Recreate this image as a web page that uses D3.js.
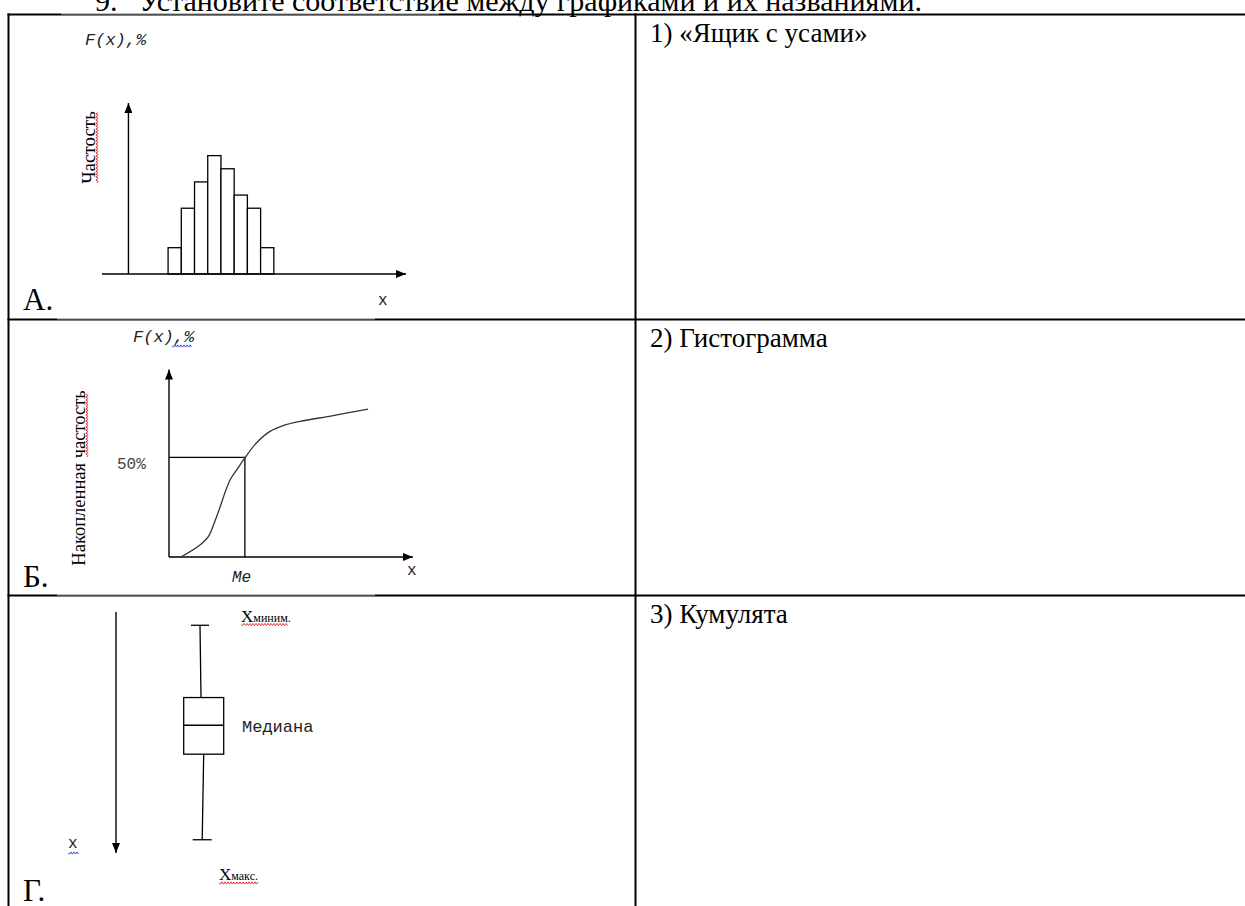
<!DOCTYPE html>
<html>
<head>
<meta charset="utf-8">
<style>
  body { margin: 0; background: #fff; }
  svg { display: block; }
  .serif { font-family: "Liberation Serif", "Times New Roman", serif; fill: #000; }
  .mono { font-family: "Liberation Mono", "Courier New", monospace; fill: #222; }
  .axis { stroke: #000; stroke-width: 1.4; fill: none; }
</style>
</head>
<body>
<svg width="1245" height="906"></svg>
<script src="https://d3js.org/d3.v7.min.js"></script>
<script>
// panel A - histogram
const histBins = [3, 4, 5, 6, 7, 8, 9, 10];
const histValues = [2, 5, 7, 9, 8, 6, 5, 2];

// panel B - cumulative curve (x in %, F(x) in %)
const cumX = [4.9, 12.7, 16.1, 19.5, 25, 27.7, 31.1, 35.9, 41.4, 46.8, 53.7, 67.3, 81.6];
const cumY = [0, 6, 10.2, 20.2, 38.6, 43.6, 49.7, 57.3, 63, 65.9, 68, 70.9, 74.2];
const medianX = 31.1;
const medianPct = 50;

// panel G - box plot: min, q1, median, q3, max
const boxStats = [1.1, 7.1, 9.4, 11.8, 18.9];

const panelLetters = ["А.", "Б.", "Г."];
const answers = ["1) «Ящик с усами»", "2) Гистограмма", "3) Кумулята"];
const title = ["9.", "Установите соответствие между графиками и их названиями."];

const svg = d3.select("svg");
svg.append("rect").attr("width", 1245).attr("height", 906).attr("fill", "#fff");

// arrow head
svg.append("defs").append("marker")
  .attr("id", "arrow")
  .attr("viewBox", "0 0 10 8")
  .attr("refX", 10).attr("refY", 4)
  .attr("markerWidth", 10).attr("markerHeight", 8)
  .attr("markerUnits", "userSpaceOnUse")
  .attr("orient", "auto")
  .append("path").attr("d", "M0,0L10,4L0,8Z").attr("fill", "#000");

// spell-check squiggle
function wavy(x0, y0, len, vertical, color) {
  let d = "M" + x0 + "," + y0;
  for (let i = 1.5, k = 1; i <= len; i += 1.5, k++) {
    let off = (k % 2 ? 1.1 : -1.1);
    d += vertical ? "L" + (x0 + off) + "," + (y0 - i) : "L" + (x0 + i) + "," + (y0 + off);
  }
  svg.append("path").attr("d", d).attr("fill", "none")
    .attr("stroke", color).attr("stroke-width", 0.9);
}

// title (cut at the top, as in the scan)
svg.append("text").attr("class", "serif").attr("x", 95).attr("y", 11)
  .style("font-size", "30px").text(title[0]);
svg.append("text").attr("class", "serif").attr("x", 139).attr("y", 11)
  .style("font-size", "30px").text(title[1]);

// table grid
const rowTops = [14.5, 319.5, 595.5];
rowTops.forEach(y => {
  svg.append("line").attr("x1", 7.5).attr("x2", 1245).attr("y1", y).attr("y2", y)
    .attr("stroke", "#000").attr("stroke-width", 2);
});
// picture frames cut the border slightly
[[61, 439, 14.5], [57, 375, 319.5], [57, 375, 595.5]].forEach(c => {
  svg.append("rect").attr("x", c[0]).attr("y", c[2] - 1).attr("width", c[1] - c[0]).attr("height", 0.8)
    .attr("fill", "#fff");
});
svg.append("line").attr("x1", 8.5).attr("x2", 8.5).attr("y1", 13.5).attr("y2", 906)
  .attr("stroke", "#000").attr("stroke-width", 2);
svg.append("line").attr("x1", 635.5).attr("x2", 635.5).attr("y1", 13.5).attr("y2", 906)
  .attr("stroke", "#000").attr("stroke-width", 2);

answers.forEach((t, i) => {
  svg.append("text").attr("class", "serif").attr("x", 650).attr("y", rowTops[i] + 27)
    .style("font-size", "27px").text(t);
});

// ---------- A: histogram ----------
const xA = d3.scaleLinear().domain([-2, 21]).range([102, 406]);
const yA = d3.scaleLinear().domain([0, 13]).range([274, 103]);

svg.append("g").selectAll("rect")
  .data(histValues)
  .join("rect")
  .attr("x", (d, i) => xA(histBins[i]))
  .attr("width", (d, i) => xA(histBins[i] + 1) - xA(histBins[i]))
  .attr("y", d => yA(d))
  .attr("height", d => yA(0) - yA(d))
  .attr("fill", "#fff").attr("stroke", "#000").attr("stroke-width", 1.3);

svg.append("line").attr("class", "axis")
  .attr("x1", xA(-2)).attr("x2", xA(21)).attr("y1", yA(0)).attr("y2", yA(0))
  .attr("marker-end", "url(#arrow)");
svg.append("line").attr("class", "axis")
  .attr("x1", xA(0)).attr("x2", xA(0)).attr("y1", yA(0)).attr("y2", yA(13))
  .attr("marker-end", "url(#arrow)");

svg.append("text").attr("class", "mono").attr("x", 85).attr("y", 45)
  .style("font-size", "17px").style("font-style", "italic").text("F(x),%");
svg.append("text").attr("class", "serif")
  .attr("transform", "translate(95,147.5) rotate(-90)")
  .attr("text-anchor", "middle").style("font-size", "19px").text("Частость");
wavy(97, 183, 71, true, "#e02020");
svg.append("text").attr("class", "mono").attr("x", 378).attr("y", 305)
  .style("font-size", "16px").text("x");
svg.append("text").attr("class", "serif").attr("x", 23).attr("y", 310)
  .style("font-size", "31px").text(panelLetters[0]);

// ---------- B: cumulative ----------
const xB = d3.scaleLinear().domain([0, 100]).range([169, 413]);
const yB = d3.scaleLinear().domain([0, 50]).range([557, 457.3]);

svg.append("line").attr("class", "axis")
  .attr("x1", xB(0)).attr("x2", xB(100)).attr("y1", yB(0)).attr("y2", yB(0))
  .attr("marker-end", "url(#arrow)");
svg.append("line").attr("class", "axis")
  .attr("x1", xB(0)).attr("x2", xB(0)).attr("y1", yB(0)).attr("y2", yB(94))
  .attr("marker-end", "url(#arrow)");

svg.append("path")
  .attr("d", "M" + xB(0) + "," + yB(medianPct) + "H" + xB(medianX) + "V" + yB(0))
  .attr("fill", "none").attr("stroke", "#000").attr("stroke-width", 1.3);

const cumLine = d3.line()
  .x((d, i) => xB(cumX[i]))
  .y(d => yB(d))
  .curve(d3.curveCatmullRom);
svg.append("path").attr("d", cumLine(cumY))
  .attr("fill", "none").attr("stroke", "#333").attr("stroke-width", 1.3);

svg.append("text").attr("class", "mono").attr("x", 133).attr("y", 342)
  .style("font-size", "17px").style("font-style", "italic").text("F(x),%");
wavy(172, 346, 20, false, "#2040d0");
svg.append("text").attr("class", "serif")
  .attr("transform", "translate(85,478) rotate(-90)")
  .attr("text-anchor", "middle").style("font-size", "18.5px").text("Накопленная частость");
wavy(87, 457, 64, true, "#e02020");
svg.append("text").attr("class", "mono").attr("x", 117).attr("y", 469)
  .style("font-size", "16px").style("fill", "#444").text(medianPct + "%");
svg.append("text").attr("class", "mono").attr("x", 232).attr("y", 582)
  .style("font-size", "16px").style("font-style", "italic").text("Me");
svg.append("text").attr("class", "mono").attr("x", 407).attr("y", 575)
  .style("font-size", "16px").text("x");
svg.append("text").attr("class", "serif").attr("x", 23).attr("y", 587)
  .style("font-size", "31px").text(panelLetters[1]);

// ---------- G: box plot ----------
const yG = d3.scaleLinear().domain([0, 20]).range([612, 853]);
const boxX = 203.7, boxHalf = 20;

svg.append("line").attr("class", "axis")
  .attr("x1", 116).attr("x2", 116).attr("y1", yG(0)).attr("y2", yG(20))
  .attr("marker-end", "url(#arrow)");

const g = svg.append("g").attr("stroke", "#000").attr("stroke-width", 1.3).attr("fill", "none");
g.append("line").attr("x1", boxX - 3.7).attr("x2", boxX - 2.7).attr("y1", yG(boxStats[0])).attr("y2", yG(boxStats[1]));
g.append("line").attr("x1", boxX).attr("x2", boxX - 1.5).attr("y1", yG(boxStats[3])).attr("y2", yG(boxStats[4]));
g.append("line").attr("x1", boxX - 12.7).attr("x2", boxX + 5.3).attr("y1", yG(boxStats[0])).attr("y2", yG(boxStats[0]));
g.append("line").attr("x1", boxX - 11).attr("x2", boxX + 8).attr("y1", yG(boxStats[4])).attr("y2", yG(boxStats[4]));
g.append("rect").attr("x", boxX - boxHalf).attr("width", boxHalf * 2)
  .attr("y", yG(boxStats[1])).attr("height", yG(boxStats[3]) - yG(boxStats[1])).attr("fill", "#fff");
g.append("line").attr("x1", boxX - boxHalf).attr("x2", boxX + boxHalf)
  .attr("y1", yG(boxStats[2])).attr("y2", yG(boxStats[2]));

const tMin = svg.append("text").attr("class", "serif").attr("x", 241).attr("y", 622).style("font-size", "17px");
tMin.append("tspan").text("X");
tMin.append("tspan").style("font-size", "12px").text("миним.");
wavy(241, 624.5, 47, false, "#e02020");
svg.append("text").attr("class", "mono").attr("x", 242).attr("y", 732)
  .style("font-size", "17px").text("Медиана");
svg.append("text").attr("class", "mono").attr("x", 68).attr("y", 848)
  .style("font-size", "16px").text("x");
wavy(68, 853, 11, false, "#2040d0");
const tMax = svg.append("text").attr("class", "serif").attr("x", 219).attr("y", 880).style("font-size", "17px");
tMax.append("tspan").text("X");
tMax.append("tspan").style("font-size", "12px").text("макс.");
wavy(219, 883, 39, false, "#e02020");
svg.append("text").attr("class", "serif").attr("x", 23).attr("y", 901)
  .style("font-size", "31px").text(panelLetters[2]);
</script>
</body>
</html>
